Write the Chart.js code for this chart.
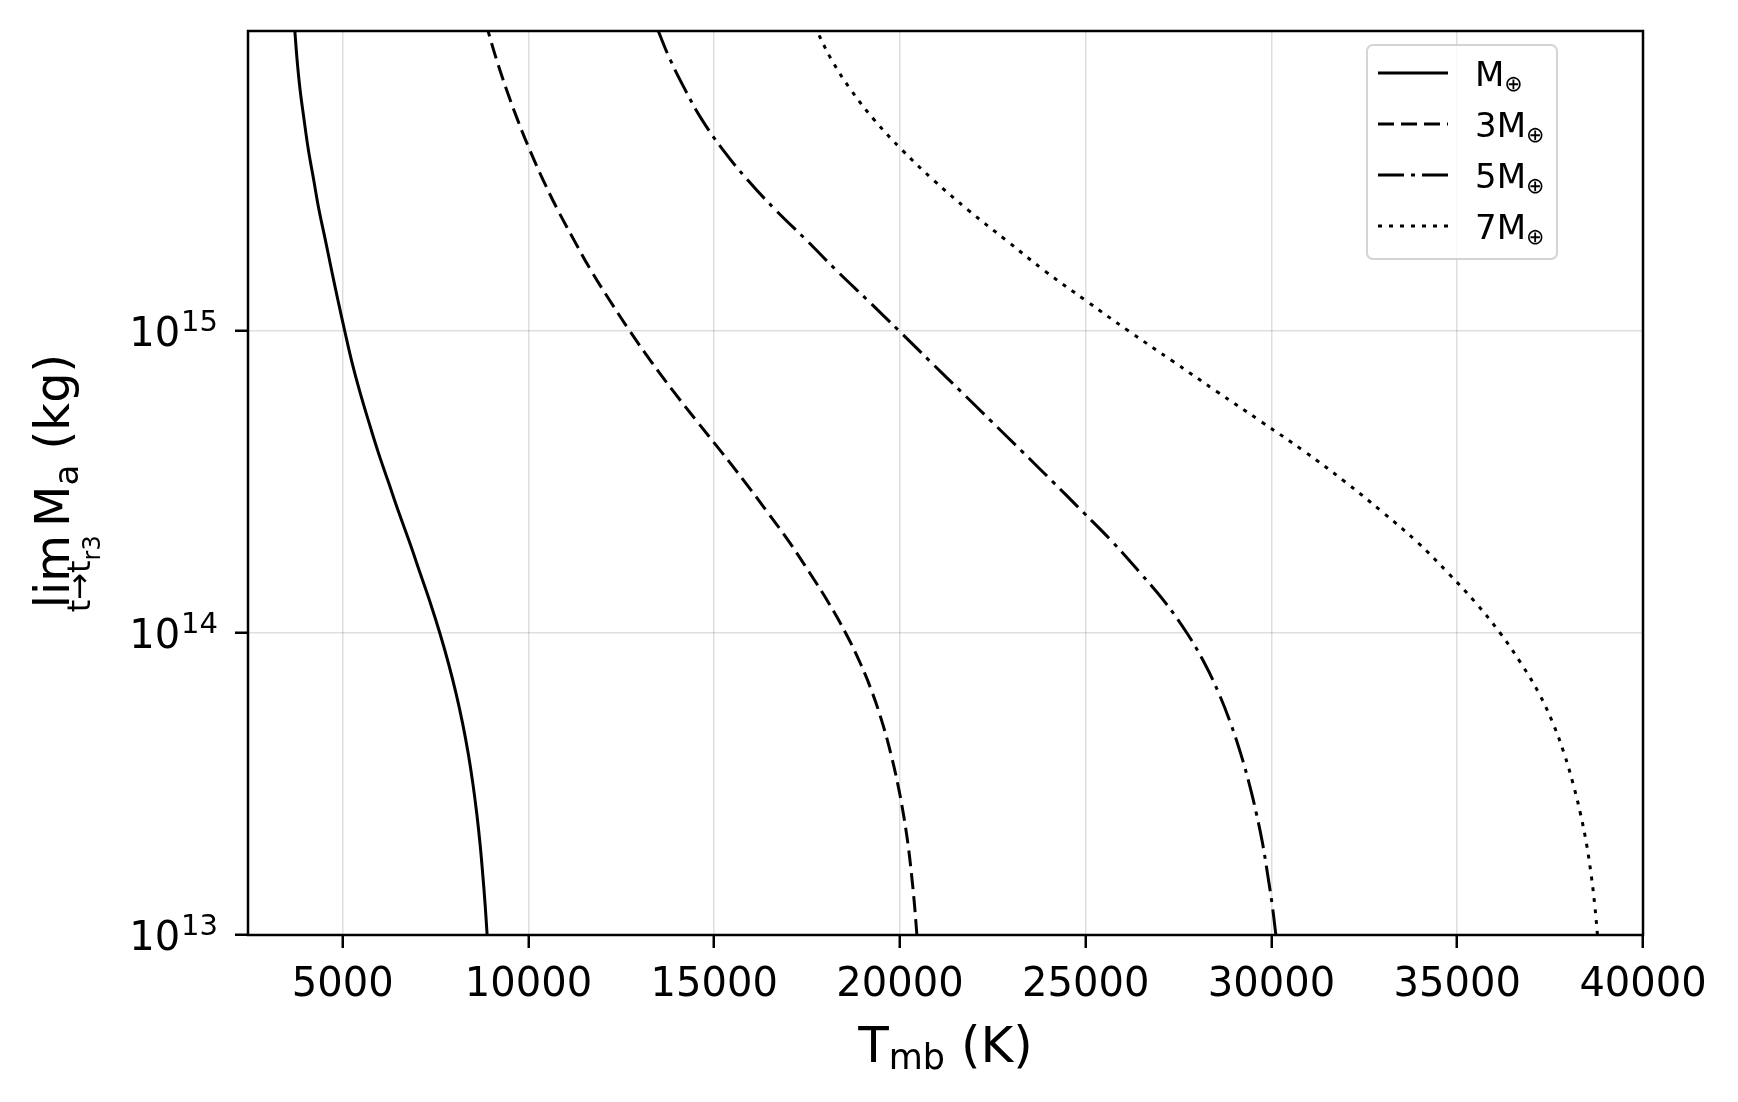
<!DOCTYPE html>
<html>
<head>
<meta charset="utf-8">
<script src="https://cdn.jsdelivr.net/npm/chart.js@4.4.1/dist/chart.umd.min.js"></script>
<style>
  html, body { margin: 0; padding: 0; background: #fff; }
  #wrap { width: 1738px; height: 1102px; position: relative; }
</style>
</head>
<body>
<div id="wrap"><canvas id="chart"></canvas></div>
<script>
// Masse limite vs température (4 masses planétaires), axe Y logarithmique.
// Un point tous les 0.1 décade en masse.

var massKg = [1.0e13, 1.26e13, 1.58e13, 2.0e13, 2.51e13, 3.16e13, 3.98e13, 5.01e13, 6.31e13, 7.94e13,
  1.0e14, 1.26e14, 1.58e14, 2.0e14, 2.51e14, 3.16e14, 3.98e14, 5.01e14, 6.31e14, 7.94e14,
  1.0e15, 1.26e15, 1.58e15, 2.0e15, 2.51e15, 3.16e15, 3.98e15, 5.01e15, 6.31e15, 7.94e15, 1.0e16];

var tempM1 = [8887, 8833, 8770, 8697, 8610, 8505, 8379, 8228, 8050, 7845,
  7613, 7356, 7082, 6797, 6508, 6230, 5952, 5700, 5458, 5242,
  5054, 4874, 4704, 4533, 4363, 4219, 4075, 3959, 3851, 3770, 3707];
var tempM3 = [20455, 20390, 20312, 20215, 20093, 19941, 19754, 19532, 19262, 18932,
  18537, 18077, 17572, 17022, 16437, 15827, 15192, 14542, 13902, 13297,
  12727, 12192, 11692, 11225, 10793, 10395, 10033, 9705, 9407, 9137, 8895];
var tempM5 = [30118, 30018, 29898, 29763, 29598, 29403, 29173, 28903, 28583, 28198,
  27723, 27143, 26468, 25723, 24933, 24123, 23298, 22468, 21638, 20808,
  19980, 19140, 18305, 17480, 16660, 15900, 15236, 14668, 14212, 13809, 13472];
var tempM7 = [38775, 38700, 38605, 38480, 38320, 38120, 37880, 37580, 37200, 36714,
  36154, 35494, 34754, 33924, 32994, 31990, 30902, 29724, 28524, 27345,
  26155, 25007, 23900, 22853, 21843, 20903, 20053, 19303, 18670, 18150, 17740];

var seriesNames = ["M", "3M", "5M", "7M"];
var xTicks = [5000, 10000, 15000, 20000, 25000, 30000, 35000, 40000];
var yTicks = [1e13, 1e14, 1e15];

document.addEventListener("DOMContentLoaded", function () {
  var FONT = "'DejaVu Sans', 'Liberation Sans', sans-serif";
  var gridColor = "rgba(0,0,0,0.13)";

  function font(px) {
    return px + "px " + FONT;
  }

  // runs = [[texte, taille, décalage vertical], ...]
  function runsWidth(ctx, runs) {
    var w = 0;
    runs.forEach(function (r) {
      ctx.font = font(r[1]);
      w += ctx.measureText(r[0]).width;
    });
    return w;
  }

  function drawRuns(ctx, runs, x, y) {
    runs.forEach(function (r) {
      ctx.font = font(r[1]);
      ctx.fillText(r[0], x, y + r[2]);
      x += ctx.measureText(r[0]).width;
    });
    return x;
  }

  var styles = [
    { dash: [] },
    { dash: [16, 7] },
    { dash: [26, 7, 4, 7] },
    { dash: [4, 7] },
  ];
  var temps = [tempM1, tempM3, tempM5, tempM7];

  var annotations = {
    id: "annotations",
    afterDatasetsDraw: function (chart) {
      var ctx = chart.ctx;
      var a = chart.chartArea;
      var yScale = chart.scales.y;
      ctx.save();
      ctx.fillStyle = "#000";
      ctx.textBaseline = "alphabetic";
      ctx.textAlign = "left";

      // cadre
      ctx.strokeStyle = "#000";
      ctx.lineWidth = 2.5;
      ctx.setLineDash([]);
      ctx.strokeRect(a.left, a.top, a.right - a.left, a.bottom - a.top);

      // étiquettes 10^n
      yTicks.forEach(function (v) {
        var py = yScale.getPixelForValue(v);
        var exp = String(Math.round(Math.log10(v)));
        ctx.font = font(29);
        var ws = ctx.measureText(exp).width;
        ctx.font = font(40);
        var wm = ctx.measureText("10").width;
        var xEnd = a.left - 30;
        ctx.font = font(40);
        ctx.fillText("10", xEnd - ws - wm - 1, py + 15);
        ctx.font = font(29);
        ctx.fillText(exp, xEnd - ws, py);
      });

      // titre X : T_mb (K)
      var xRuns = [["T", 50, 0], ["mb", 35, 7], [" (K)", 50, 0]];
      var xw = runsWidth(ctx, xRuns);
      drawRuns(ctx, xRuns, (a.left + a.right) / 2 - xw / 2, 1062);

      // titre Y : lim_{t→t_r3} M_a (kg), tourné
      ctx.save();
      ctx.translate(69, (a.top + a.bottom) / 2);
      ctx.rotate(-Math.PI / 2);
      ctx.font = font(48);
      var wLim = ctx.measureText("lim").width;
      var subRuns = [["t→t", 32, 21], ["r3", 24, 31]];
      var mainRuns = [["M", 48, 0], ["a", 34, 9], [" (kg)", 48, 0]];
      var wMain = runsWidth(ctx, mainRuns);
      var total = 4 + wLim + 8 + wMain;
      var u0 = -total / 2;
      drawRuns(ctx, subRuns, u0, 0);
      ctx.font = font(48);
      ctx.fillText("lim", u0 + 4, 0);
      drawRuns(ctx, mainRuns, u0 + 4 + wLim + 8, 0);
      ctx.restore();

      // légende
      var bx = 1367, by = 45, bw = 190, bh = 214;
      ctx.beginPath();
      ctx.roundRect(bx, by, bw, bh, 6);
      ctx.fillStyle = "rgba(255,255,255,0.8)";
      ctx.fill();
      ctx.strokeStyle = "#d4d4d4";
      ctx.lineWidth = 2;
      ctx.stroke();
      ctx.fillStyle = "#000";
      seriesNames.forEach(function (name, i) {
        var ry = 73 + i * 51;
        ctx.beginPath();
        ctx.setLineDash(styles[i].dash);
        ctx.strokeStyle = "#000";
        ctx.lineWidth = 3;
        ctx.moveTo(1378, ry);
        ctx.lineTo(1448, ry);
        ctx.stroke();
        ctx.setLineDash([]);
        drawRuns(ctx, [[name, 34, 0], ["⊕", 22, 5]], 1475, ry + 13);
      });
      ctx.restore();
    },
  };

  new Chart(document.getElementById("chart"), {
    type: "line",
    data: {
      datasets: seriesNames.map(function (name, i) {
        return {
          label: name + "⊕",
          data: massKg.map(function (m, j) {
            return { x: temps[i][j], y: m };
          }),
          borderColor: "#000",
          borderWidth: 3,
          borderDash: styles[i].dash,
          pointRadius: 0,
          tension: 0.4,
          fill: false,
        };
      }),
    },
    options: {
      responsive: true,
      maintainAspectRatio: false,
      animation: false,
      layout: { padding: { left: 0, top: 31, right: 95, bottom: 0 } },
      plugins: { legend: { display: false }, tooltip: { enabled: false } },
      scales: {
        x: {
          type: "linear",
          min: 2450,
          max: 40000,
          afterBuildTicks: function (s) {
            s.ticks = xTicks.map(function (v) { return { value: v }; });
          },
          afterFit: function (s) { s.height = 167; },
          border: { display: false },
          grid: { color: gridColor, lineWidth: 1.5, tickColor: "#000", tickWidth: 2.5, tickLength: 13 },
          ticks: {
            color: "#000",
            font: { family: FONT, size: 40 },
            padding: 14,
            maxRotation: 0,
            autoSkip: false,
            callback: function (v) { return String(v); },
          },
        },
        y: {
          type: "logarithmic",
          min: 1e13,
          max: 9.85e15,
          afterBuildTicks: function (s) {
            s.ticks = yTicks.map(function (v) { return { value: v }; });
          },
          afterFit: function (s) { s.width = 248; },
          border: { display: false },
          grid: { color: gridColor, lineWidth: 1.5, tickColor: "#000", tickWidth: 2.5, tickLength: 13 },
          ticks: {
            autoSkip: false,
            callback: function () { return ""; },
          },
        },
      },
    },
    plugins: [annotations],
  });
});
</script>
</body>
</html>
